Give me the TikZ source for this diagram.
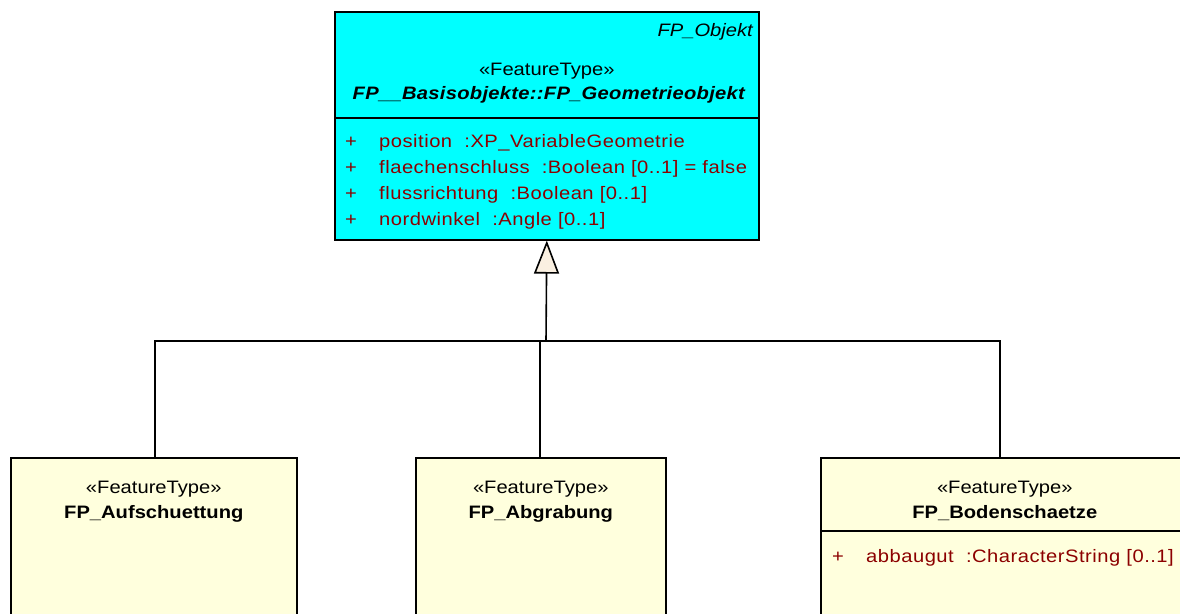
\documentclass[tikz,border=0pt]{standalone}
\usepackage{fontspec}
\setmainfont{Liberation Sans}[FakeStretch=1.12]
\usetikzlibrary{arrows.meta, positioning, calc}

\definecolor{geoCyan}{RGB}{0,255,255}
\definecolor{typeYellow}{RGB}{255,255,221}
\definecolor{attrRed}{RGB}{140,0,0}
\definecolor{tipBeige}{RGB}{250,240,225}

\tikzset{
	classbox/.style = {draw, line width=1.6pt, inner sep=0pt, anchor=north west},
	umltext/.style = {inner sep=0pt, font=\fontsize{18}{18}\selectfont},
	stereo/.style = {umltext, anchor=base},
	classname/.style = {umltext, anchor=base, font=\fontsize{18}{18}\selectfont\bfseries},
	attrtext/.style = {umltext, anchor=base west, text=attrRed, font=\fontsize{18}{18}\selectfont\addfontfeature{LetterSpace=2.8}},
	genline/.style = {line width=1.6pt}
}

\begin{document}
\begin{tikzpicture}[x=1pt, y=-1pt]
	\useasboundingbox (0,0) rectangle (1180,613);
	\clip (0,0) rectangle (1180,613);

	% Oberklasse
	\node[classbox, fill=geoCyan, minimum width=424pt, minimum height=228pt] (geo) at (334,11) {};
	\draw[genline] ($(geo.north west)+(0,107)$) -- ($(geo.north east)+(0,107)$);
	\node[umltext, anchor=base east, font=\fontsize{18}{18}\selectfont\itshape] (geoPkg) at (753,36) {FP\_Objekt};
	\node[stereo] (geoSt) at ($(geo.north)+(0,64)$) {«FeatureType»};
	\node[classname, font=\fontsize{18}{18}\selectfont\bfseries\itshape\addfontfeature{LetterSpace=1.6}] (geoName) at ($(geo.north)+(2,88)$) {FP\_\_Basisobjekte::FP\_Geometrieobjekt};

	\foreach \attr [count=\i from 0] in {{position~~:XP\_VariableGeometrie}, {flaechenschluss~~:Boolean [0..1] = false}, {flussrichtung~~:Boolean [0..1]}, {nordwinkel~~:Angle [0..1]}}
	{
		\node[attrtext] (geoPlus\i) at (345,147+26*\i) {+};
		\node[attrtext] (geoAttr\i) at (379,147+26*\i) {\attr};
	}

	% Unterklassen
	\node[classbox, fill=typeYellow, minimum width=286pt, minimum height=200pt] (aufs) at (10,457) {};
	\node[classbox, fill=typeYellow, minimum width=250pt, minimum height=200pt] (abgr) at (415,457) {};
	\node[classbox, fill=typeYellow, minimum width=368pt, minimum height=200pt] (boden) at (820,457) {};

	\node[stereo] (aufsSt) at ($(aufs.north)+(0,36)$) {«FeatureType»};
	\node[classname] (aufsName) at ($(aufs.north)+(0,61)$) {FP\_Aufschuettung};
	\node[stereo] (abgrSt) at ($(abgr.north)+(0,36)$) {«FeatureType»};
	\node[classname] (abgrName) at ($(abgr.north)+(0,61)$) {FP\_Abgrabung};
	\node[stereo] (bodenSt) at ($(boden.north)+(0,36)$) {«FeatureType»};
	\node[classname] (bodenName) at ($(boden.north)+(0,61)$) {FP\_Bodenschaetze};

	\draw[genline] ($(boden.north west)+(0,74)$) -- ($(boden.north east)+(0,74)$);
	\node[attrtext] (bodenPlus) at (832,562) {+};
	\node[attrtext] (bodenAttr) at (866,562) {abbaugut~~:CharacterString [0..1]};

	% Generalisierung
	\coordinate (hub) at (546,341);
	\draw[genline, -{Triangle[length=33pt, width=25pt, fill=tipBeige]}] (hub) -- (geo.south);
	\draw[genline] ([xshift=1pt]aufs.north) |- (hub);
	\draw[genline] ([xshift=-1pt]abgr.north) |- (hub);
	\draw[genline] ([xshift=-5pt]boden.north) |- (hub);
\end{tikzpicture}
\end{document}
